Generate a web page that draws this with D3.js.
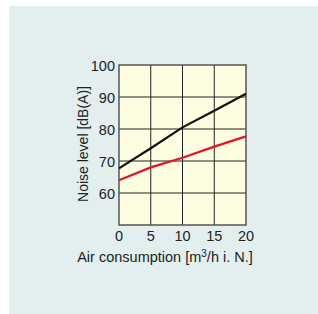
<!DOCTYPE html>
<html>
<head>
<meta charset="utf-8">
<script src="https://cdn.jsdelivr.net/npm/d3@7"></script>
<style>
  body { margin: 0; background: #fff; }
  text { font-family: "Liberation Sans", Arial, sans-serif; fill: #222; }
</style>
</head>
<body>
<script>
// chart values
var airFlow = [0, 5, 10, 15, 20];
var noiseBlack = [67.7, 74, 80.5, 85.7, 91];
var noiseRed = [64, 68, 71, 74.5, 77.7];
var xTicks = [0, 5, 10, 15, 20];
var yTicks = [60, 70, 80, 90, 100];

var W = 318, H = 314;
var svg = d3.select("body").append("svg").attr("width", W).attr("height", H);

// panel background
svg.append("rect").attr("x", 9).attr("y", 6).attr("width", W - 9).attr("height", H - 6)
  .attr("fill", "#e3efef");

var pLeft = 119, pRight = 246, pTop = 65, pBottom = 225;
var x = d3.scaleLinear().domain([0, 20]).range([pLeft, pRight]);
var y = d3.scaleLinear().domain([50, 100]).range([pBottom, pTop]);

svg.append("rect").attr("x", pLeft).attr("y", pTop)
  .attr("width", pRight - pLeft).attr("height", pBottom - pTop)
  .attr("fill", "#fdfde1");

// grid
var g = svg.append("g");
g.selectAll(".gx").data(xTicks.slice(1, -1)).enter().append("line")
  .attr("x1", d => x(d)).attr("x2", d => x(d))
  .attr("y1", pTop).attr("y2", pBottom)
  .attr("stroke", "#222").attr("stroke-width", 1);
g.selectAll(".gy").data(yTicks.slice(0, -1)).enter().append("line")
  .attr("x1", pLeft).attr("x2", pRight)
  .attr("y1", d => y(d)).attr("y2", d => y(d))
  .attr("stroke", "#222").attr("stroke-width", 1);

// frame
svg.append("rect").attr("x", pLeft).attr("y", pTop)
  .attr("width", pRight - pLeft).attr("height", pBottom - pTop)
  .attr("fill", "none").attr("stroke", "#555550").attr("stroke-width", 1.5);

// lines
var line = d3.line().x((d, i) => x(airFlow[i])).y(d => y(d));
svg.append("path").datum(noiseRed).attr("d", line)
  .attr("fill", "none").attr("stroke", "#e3132b").attr("stroke-width", 2.2);
svg.append("path").datum(noiseBlack).attr("d", line)
  .attr("fill", "none").attr("stroke", "#111").attr("stroke-width", 2.2);

// tick labels
svg.selectAll(".yt").data(yTicks).enter().append("text")
  .attr("x", pLeft - 4).attr("y", d => y(d) + 5.5)
  .attr("text-anchor", "end").attr("font-size", 14.5)
  .text(d => d);
svg.selectAll(".xt").data(xTicks).enter().append("text")
  .attr("x", d => x(d)).attr("y", pBottom + 16)
  .attr("text-anchor", "middle").attr("font-size", 14.5)
  .text(d => d);

// axis titles
var xt = svg.append("text").attr("x", 165).attr("y", 262)
  .attr("text-anchor", "middle").attr("font-size", 14.5);
xt.append("tspan").text("Air consumption [m");
xt.append("tspan").attr("font-size", 10).attr("dy", -5).text("3");
xt.append("tspan").attr("dy", 5).text("/h i. N.]");

svg.append("text")
  .attr("transform", "translate(88,144) rotate(-90)")
  .attr("text-anchor", "middle").attr("font-size", 14)
  .text("Noise level [dB(A)]");
</script>
</body>
</html>
